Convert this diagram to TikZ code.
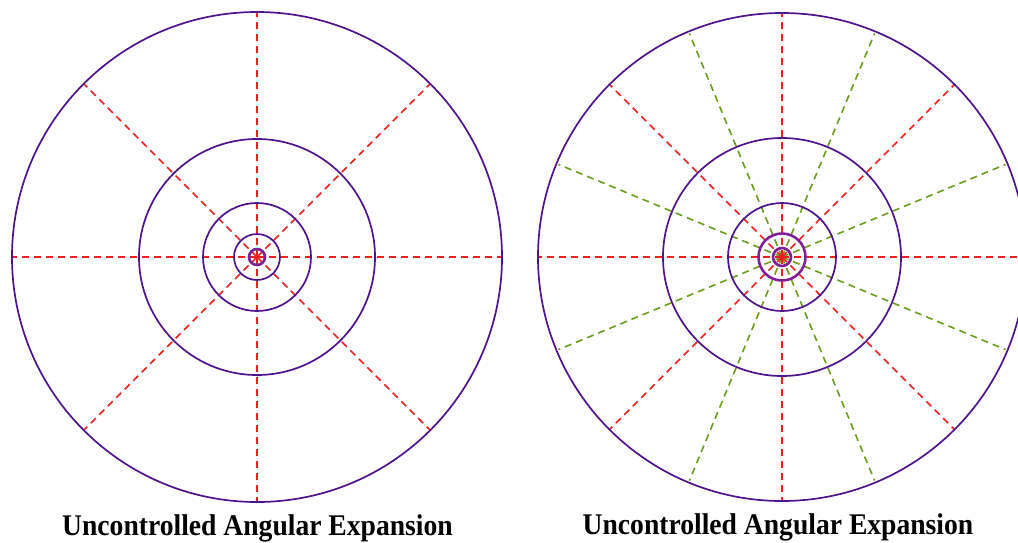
\documentclass[tikz,border=0pt]{standalone}
\usepackage{fontspec}
\setmainfont{Liberation Serif}
\definecolor{ringpurple}{RGB}{78,20,140}
\definecolor{ringmagenta}{RGB}{128,32,150}
\definecolor{rayred}{RGB}{238,32,32}
\definecolor{raygreen}{RGB}{108,156,30}

\begin{document}
\begin{tikzpicture}[x=1pt, y=-1pt,
    ring/.style={ringpurple, line width=1.7pt},
    corering/.style={ringmagenta, line width=2.6pt},
    redray/.style={rayred, line width=1.6pt, dash pattern=on 7pt off 5pt},
    greenray/.style={raygreen, line width=1.6pt, dash pattern=on 7pt off 5pt},
    caption/.style={font=\fontsize{30}{34}\selectfont\bfseries, inner sep=0pt,
        anchor=base, xscale=0.92}]
    \useasboundingbox (0,0) rectangle (1018,542);
    \clip (0,0) rectangle (1018,542);

    % left disc
    \coordinate (L) at (257,257);
    \foreach \a in {0,45,...,315} {
        \draw[redray] (L) -- ++(\a:245);
    }
    \foreach \r in {245,118,54,23} {
        \draw[ring] (L) circle (\r);
    }
    \draw[corering] (L) circle (8);
    \node[caption] (capL) at (257.5,535) {Uncontrolled Angular Expansion};

    % right disc
    \coordinate (R) at (782,257);
    \foreach \a in {22.5,67.5,...,337.5} {
        \draw[greenray] (R) -- ++(\a:242);
    }
    \foreach \a in {0,45,...,315} {
        \draw[redray] (R) -- ++(\a:244);
    }
    \foreach \r in {244,119,54} {
        \draw[ring] (R) circle (\r);
    }
    \draw[corering] (R) circle (23.5);
    \draw[corering] (R) circle (9);
    \node[caption] (capR) at (778,534) {Uncontrolled Angular Expansion};
\end{tikzpicture}
\end{document}
